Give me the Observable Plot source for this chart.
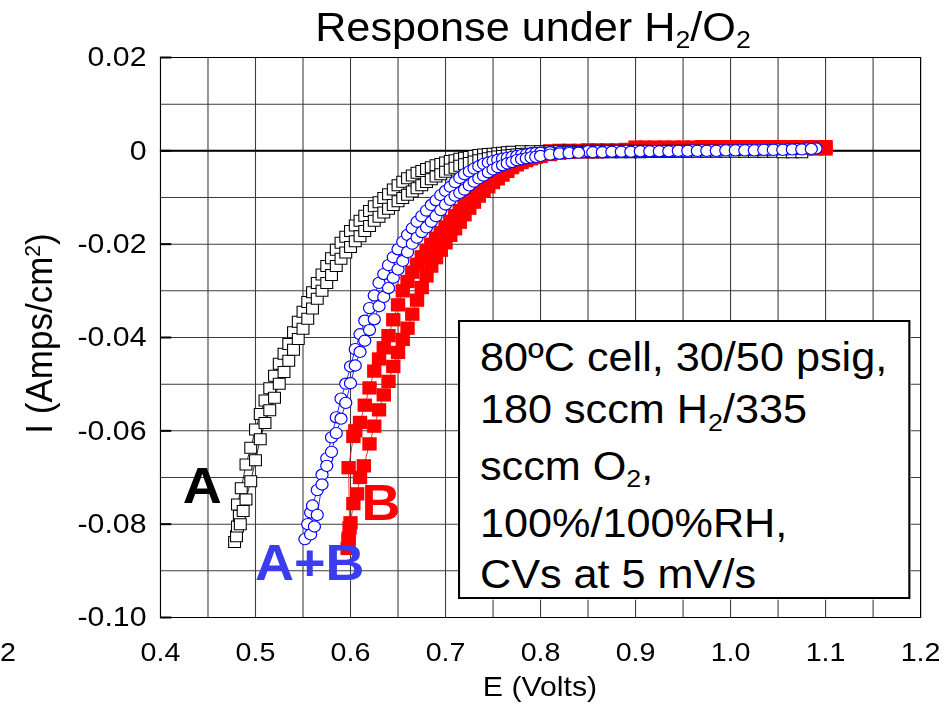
<!DOCTYPE html>
<html><head><meta charset="utf-8">
<script src="https://cdn.jsdelivr.net/npm/d3@7"></script>
<script src="https://cdn.jsdelivr.net/npm/@observablehq/plot@0.6"></script>
<style>
html,body{margin:0;padding:0;background:#fff;overflow:hidden;}
body{width:950px;height:706px;position:relative;}
#stage{position:absolute;left:0;top:0;width:880px;height:706px;transform:scaleX(1.08);transform-origin:0 0;font-family:"Liberation Sans",Arial,Helvetica,sans-serif;color:#000;}
#stage svg{position:absolute;left:0;top:0;}
.ov{position:absolute;white-space:nowrap;}
.sub{font-size:0.62em;position:relative;top:0.3em;}
</style></head><body>
<div id="stage">
  <div class="ov" id="title" style="left:193.5px;width:600px;top:7px;font-size:40px;line-height:40px;text-align:center;">Response under H<span class="sub">2</span>/O<span class="sub">2</span></div>
  <div class="ov" style="left:-114.3px;top:315.5px;width:300px;font-size:35px;line-height:35px;text-align:center;transform:rotate(-90deg);">I (Amps/cm<sup style="font-size:0.6em;vertical-align:0.55em;line-height:0">2</sup>)</div>
  <div class="ov" style="left:350px;width:300px;top:673.3px;font-size:28px;line-height:28px;text-align:center;">E (Volts)</div>
  <div class="ov" style="left:0px;top:638.5px;font-size:26.5px;line-height:26.5px;">2</div>
  <div class="ov" id="note" style="left:424px;top:320px;width:418.5px;height:279px;box-sizing:border-box;border:2px solid #000;background:#fff;padding:10.4px 0 0 18.4px;font-size:40px;line-height:51.7px;">80ºC cell, 30/50 psig,<br>180 sccm H<span class="sub">2</span>/335<br>sccm O<span class="sub">2</span>,<br>100%/100%RH,<br>CVs at 5 mV/s</div>
</div>
<script>
// ---- axis ticks & grid ----
const xTicks = [0.4, 0.5, 0.6, 0.7, 0.8, 0.9, 1.0, 1.1, 1.2];
const yTicks = [0.02, 0, -0.02, -0.04, -0.06, -0.08, -0.10];
const gridX = [0.4, 0.45, 0.5, 0.55, 0.6, 0.65, 0.7, 0.75, 0.8, 0.85, 0.9, 0.95, 1.0, 1.05, 1.1, 1.15, 1.2];
const gridY = [0.02, 0.01, 0, -0.01, -0.02, -0.03, -0.04, -0.05, -0.06, -0.07, -0.08, -0.09, -0.10];

// ---- series A (black open squares), two scan branches [E (V), I (A/cm2)] ----
const scanA1 = [[0.478,-0.0838],[0.480,-0.0826],[0.481,-0.0805],[0.483,-0.0782],[0.481,-0.0758],[0.485,-0.0723],[0.490,-0.0672],[0.495,-0.0636],[0.500,-0.0597],[0.505,-0.0564],[0.510,-0.0535],[0.515,-0.0509],[0.520,-0.0482],[0.525,-0.0456],[0.530,-0.0435],[0.535,-0.0414],[0.540,-0.0389],[0.545,-0.0366],[0.550,-0.0345],[0.555,-0.0324],[0.560,-0.0303],[0.565,-0.0283],[0.570,-0.0265],[0.575,-0.0247],[0.580,-0.0230],[0.585,-0.0212],[0.590,-0.0197],[0.595,-0.0184],[0.600,-0.0172],[0.605,-0.0160],[0.610,-0.0150],[0.615,-0.0139],[0.620,-0.0129],[0.625,-0.0119],[0.630,-0.0110],[0.635,-0.0101],[0.640,-0.0093],[0.645,-0.0083],[0.650,-0.0074],[0.655,-0.0066],[0.660,-0.0059],[0.665,-0.0053],[0.670,-0.0047],[0.675,-0.0043],[0.680,-0.0039],[0.685,-0.0035],[0.690,-0.0031],[0.695,-0.0028],[0.700,-0.0025],[0.705,-0.0022],[0.710,-0.0020],[0.715,-0.0017],[0.720,-0.0015],[0.725,-0.0013],[0.730,-0.0011],[0.735,-0.0009],[0.740,-0.0008],[0.745,-0.0007],[0.750,-0.0006],[0.755,-0.0005],[0.760,-0.0004],[0.765,-0.0003],[0.770,-0.0002],[0.780,-0.0001],[0.790,-0.0001],[0.800,-0.0001],[0.810,-0.0001],[0.820,0],[0.830,0],[0.840,-0.0001],[0.850,0],[0.860,0],[0.870,0],[0.880,0],[0.890,0],[0.900,0],[0.910,0],[0.920,-0.0001],[0.930,0],[0.940,0],[0.950,0],[0.960,0],[0.970,0],[0.980,0],[0.990,0],[1.000,0],[1.010,0],[1.020,0],[1.030,-0.0001],[1.040,0],[1.050,0],[1.060,-0.0001],[1.070,-0.0001]];
const scanA2 = [[0.484,-0.0800],[0.487,-0.0772],[0.490,-0.0747],[0.495,-0.0708],[0.500,-0.0663],[0.505,-0.0618],[0.510,-0.0583],[0.515,-0.0556],[0.520,-0.0529],[0.525,-0.0499],[0.530,-0.0474],[0.535,-0.0450],[0.540,-0.0426],[0.545,-0.0403],[0.550,-0.0381],[0.555,-0.0360],[0.560,-0.0338],[0.565,-0.0317],[0.570,-0.0300],[0.575,-0.0283],[0.580,-0.0266],[0.585,-0.0247],[0.590,-0.0231],[0.595,-0.0218],[0.600,-0.0206],[0.605,-0.0194],[0.610,-0.0183],[0.615,-0.0172],[0.620,-0.0161],[0.625,-0.0150],[0.630,-0.0141],[0.635,-0.0132],[0.640,-0.0124],[0.645,-0.0116],[0.650,-0.0108],[0.655,-0.0101],[0.660,-0.0094],[0.665,-0.0087],[0.670,-0.0080],[0.675,-0.0074],[0.680,-0.0067],[0.685,-0.0061],[0.690,-0.0055],[0.695,-0.0050],[0.700,-0.0045],[0.705,-0.0040],[0.710,-0.0036],[0.715,-0.0032],[0.720,-0.0029],[0.725,-0.0026],[0.730,-0.0023],[0.735,-0.0020],[0.740,-0.0018],[0.745,-0.0016],[0.750,-0.0014],[0.755,-0.0012],[0.760,-0.0011],[0.765,-0.0010],[0.770,-0.0009],[0.775,-0.0008],[0.780,-0.0007],[0.785,-0.0006],[0.795,-0.0005],[0.805,-0.0004],[0.815,-0.0004],[0.825,-0.0003],[0.835,-0.0003],[0.845,-0.0003],[0.855,-0.0003],[0.865,-0.0003],[0.875,-0.0003],[0.885,-0.0003],[0.895,-0.0003],[0.905,-0.0003],[0.915,-0.0002],[0.925,-0.0002],[0.935,-0.0002],[0.945,-0.0002],[0.955,-0.0002],[0.965,-0.0002],[0.975,-0.0002],[0.985,-0.0002],[0.995,-0.0002],[1.005,-0.0002],[1.015,-0.0002],[1.025,-0.0002],[1.035,-0.0002],[1.045,-0.0002],[1.055,-0.0003],[1.065,-0.0003],[1.075,-0.0003]];

// ---- series A+B (blue open circles) ----
const scanAB1 = [[0.552,-0.0832],[0.555,-0.0800],[0.558,-0.0775],[0.560,-0.0760],[0.565,-0.0727],[0.570,-0.0694],[0.575,-0.0659],[0.580,-0.0614],[0.585,-0.0571],[0.590,-0.0531],[0.595,-0.0499],[0.600,-0.0462],[0.605,-0.0425],[0.610,-0.0393],[0.615,-0.0364],[0.620,-0.0337],[0.625,-0.0310],[0.630,-0.0283],[0.635,-0.0264],[0.640,-0.0245],[0.645,-0.0228],[0.650,-0.0211],[0.655,-0.0195],[0.660,-0.0180],[0.665,-0.0166],[0.670,-0.0152],[0.675,-0.0140],[0.680,-0.0128],[0.685,-0.0116],[0.690,-0.0106],[0.695,-0.0095],[0.700,-0.0086],[0.705,-0.0077],[0.710,-0.0067],[0.715,-0.0058],[0.720,-0.0050],[0.725,-0.0044],[0.730,-0.0038],[0.735,-0.0033],[0.740,-0.0028],[0.745,-0.0025],[0.750,-0.0022],[0.755,-0.0019],[0.760,-0.0017],[0.765,-0.0015],[0.770,-0.0013],[0.775,-0.0011],[0.780,-0.0009],[0.785,-0.0008],[0.790,-0.0006],[0.795,-0.0005],[0.800,-0.0004],[0.810,-0.0003],[0.820,-0.0003],[0.830,-0.0002],[0.840,-0.0002],[0.850,-0.0001],[0.860,-0.0001],[0.870,-0.0001],[0.880,0],[0.890,0],[0.900,0],[0.910,0],[0.920,0],[0.930,0],[0.940,0],[0.950,0],[0.960,0.0001],[0.970,0.0001],[0.980,0.0001],[0.990,0.0001],[1.000,0.0001],[1.010,0.0002],[1.020,0.0002],[1.030,0.0002],[1.040,0.0002],[1.050,0.0003],[1.060,0.0003],[1.070,0.0004],[1.080,0.0005],[1.090,0.0005]];
const scanAB2 = [[0.558,-0.0822],[0.562,-0.0805],[0.565,-0.0780],[0.570,-0.0715],[0.575,-0.0675],[0.580,-0.0645],[0.585,-0.0605],[0.590,-0.0574],[0.595,-0.0540],[0.600,-0.0498],[0.605,-0.0460],[0.610,-0.0431],[0.615,-0.0407],[0.620,-0.0384],[0.625,-0.0361],[0.630,-0.0333],[0.635,-0.0313],[0.640,-0.0294],[0.645,-0.0272],[0.650,-0.0254],[0.655,-0.0236],[0.660,-0.0217],[0.665,-0.0199],[0.670,-0.0186],[0.675,-0.0174],[0.680,-0.0164],[0.685,-0.0152],[0.690,-0.0140],[0.695,-0.0127],[0.700,-0.0115],[0.705,-0.0105],[0.710,-0.0096],[0.715,-0.0090],[0.720,-0.0083],[0.725,-0.0074],[0.730,-0.0066],[0.735,-0.0059],[0.740,-0.0053],[0.745,-0.0046],[0.750,-0.0040],[0.755,-0.0035],[0.760,-0.0031],[0.765,-0.0027],[0.770,-0.0024],[0.775,-0.0020],[0.780,-0.0018],[0.785,-0.0016],[0.790,-0.0014],[0.795,-0.0013],[0.800,-0.0011],[0.810,-0.0008],[0.820,-0.0006],[0.830,-0.0005],[0.840,-0.0004],[0.855,-0.0003],[0.865,-0.0003],[0.875,-0.0002],[0.885,-0.0002],[0.895,-0.0002],[0.905,-0.0001],[0.915,-0.0001],[0.925,-0.0001],[0.935,-0.0001],[0.945,0],[0.955,0],[0.965,0],[0.975,0],[0.985,0],[0.995,0.0001],[1.005,0.0001],[1.015,0.0001],[1.025,0.0001],[1.035,0.0002],[1.045,0.0002],[1.055,0.0002],[1.065,0.0003],[1.075,0.0003],[1.085,0.0004]];

// ---- series B (red filled squares) ----
const scanB1 = [[0.597,-0.0852],[0.598,-0.0830],[0.599,-0.0808],[0.598,-0.0679],[0.603,-0.0612],[0.605,-0.0600],[0.610,-0.0582],[0.615,-0.0545],[0.620,-0.0508],[0.625,-0.0472],[0.630,-0.0446],[0.635,-0.0422],[0.640,-0.0396],[0.645,-0.0362],[0.650,-0.0330],[0.655,-0.0300],[0.660,-0.0280],[0.665,-0.0260],[0.670,-0.0243],[0.675,-0.0227],[0.680,-0.0213],[0.685,-0.0200],[0.690,-0.0187],[0.695,-0.0175],[0.700,-0.0163],[0.705,-0.0151],[0.710,-0.0139],[0.715,-0.0128],[0.720,-0.0117],[0.725,-0.0106],[0.730,-0.0096],[0.735,-0.0086],[0.740,-0.0077],[0.745,-0.0068],[0.750,-0.0060],[0.755,-0.0052],[0.760,-0.0045],[0.765,-0.0038],[0.770,-0.0032],[0.775,-0.0026],[0.780,-0.0021],[0.785,-0.0016],[0.790,-0.0012],[0.795,-0.0008],[0.800,-0.0005],[0.805,-0.0002],[0.810,0],[0.820,0.0001],[0.830,0.0001],[0.840,0.0001],[0.850,0.0002],[0.860,0.0002],[0.870,0.0002],[0.880,0.0002],[0.890,0.0003],[0.900,0.0008],[0.910,0.0008],[0.920,0.0008],[0.930,0.0008],[0.940,0.0008],[0.950,0.0008],[0.960,0.0008],[0.970,0.0009],[0.980,0.0009],[0.990,0.0009],[1.000,0.0009],[1.010,0.0009],[1.020,0.0009],[1.030,0.0009],[1.040,0.0009],[1.050,0.0009],[1.060,0.0009],[1.070,0.0009],[1.080,0.0009],[1.090,0.0009],[1.100,0.0009]];
const scanB2 = [[0.598,-0.0836],[0.600,-0.0797],[0.603,-0.0756],[0.607,-0.0735],[0.610,-0.0700],[0.614,-0.0675],[0.620,-0.0628],[0.625,-0.0590],[0.630,-0.0555],[0.635,-0.0523],[0.640,-0.0494],[0.645,-0.0462],[0.650,-0.0432],[0.655,-0.0404],[0.660,-0.0380],[0.665,-0.0350],[0.670,-0.0320],[0.675,-0.0293],[0.680,-0.0268],[0.685,-0.0247],[0.690,-0.0229],[0.695,-0.0213],[0.700,-0.0197],[0.705,-0.0181],[0.710,-0.0167],[0.715,-0.0153],[0.720,-0.0137],[0.725,-0.0123],[0.730,-0.0110],[0.735,-0.0097],[0.740,-0.0086],[0.745,-0.0077],[0.750,-0.0068],[0.755,-0.0060],[0.760,-0.0052],[0.765,-0.0044],[0.770,-0.0036],[0.775,-0.0030],[0.780,-0.0025],[0.785,-0.0021],[0.790,-0.0017],[0.795,-0.0014],[0.800,-0.0012],[0.810,-0.0008],[0.820,-0.0005],[0.830,-0.0003],[0.840,-0.0002],[0.850,-0.0002],[0.860,-0.0002],[0.870,-0.0001],[0.880,-0.0001],[0.890,-0.0001],[0.900,0],[0.910,0],[0.920,0],[0.930,0],[0.940,0],[0.950,0],[0.960,0.0001],[0.970,0.0001],[0.980,0.0001],[0.990,0.0001],[1.000,0.0002],[1.010,0.0002],[1.020,0.0002],[1.030,0.0002],[1.040,0.0003],[1.050,0.0003],[1.060,0.0003],[1.070,0.0003],[1.080,0.0004],[1.090,0.0004],[1.100,0.0004]];

// ---- in-plot labels ----
const labelText = ["A", "A+B", "B"];
const labelE = [0.444, 0.557, 0.632];
const labelI = [-0.0720, -0.0885, -0.0757];
const labelColor = ["#000000", "#3b3bf2", "#ff0000"];

// ---- build tables ----
function rowsOf(name, scans) {
  const out = [];
  scans.forEach((pts, s) => pts.forEach(([E, I]) => out.push({series: name, scan: name + s, E, I})));
  return out;
}
const dataA = rowsOf("A", [scanA1, scanA2]);
const dataAB = rowsOf("A+B", [scanAB1, scanAB2]);
const dataB = rowsOf("B", [scanB1, scanB2]);
const labels = labelText.map((t, i) => ({t, E: labelE[i], I: labelI[i], c: labelColor[i]}));

const fmtY = d => (d === 0 ? "0" : d.toFixed(2));
const fmtX = d => d.toFixed(1);
const FONT = '"Liberation Sans", Arial, Helvetica, sans-serif';
const W = 880, ML = 148.1, MR = 28.1;

const chart = Plot.plot({
  width: W,
  height: 706,
  marginLeft: ML,
  marginRight: MR,
  marginTop: 57,
  marginBottom: 89,
  style: {fontFamily: FONT, fontSize: "27px", color: "#000", background: "transparent", overflow: "visible"},
  x: {domain: [0.4, 1.2]},
  y: {domain: [-0.10, 0.02]},
  marks: [
    Plot.ruleX(gridX, {stroke: "#3c3c3c", strokeWidth: 1}),
    Plot.ruleY(gridY, {stroke: "#3c3c3c", strokeWidth: 1}),
    Plot.ruleY([0], {stroke: "#000", strokeWidth: 2}),
    Plot.frame({stroke: "#000", strokeWidth: 1}),
    Plot.tickY(yTicks, {stroke: "#000", strokeWidth: 2, insetRight: (W - ML - MR) - 10.5}),
    Plot.axisX(xTicks, {tickSize: 0, tickPadding: 25, tickFormat: fmtX, fontSize: 26.5, label: null}),
    Plot.axisY(yTicks, {tickSize: 0, tickPadding: 13, tickFormat: fmtY, fontSize: 28, label: null}),
    Plot.line(dataB, {x: "E", y: "I", z: "scan", stroke: "#ff0000", strokeWidth: 0.8}),
    Plot.dot(dataB, {x: "E", y: "I", symbol: "square", r: 7.5, fill: "#ff0000"}),
    Plot.line(dataA, {x: "E", y: "I", z: "scan", stroke: "#000", strokeWidth: 0.8}),
    Plot.dot(dataA, {x: "E", y: "I", symbol: "square", r: 6.2, fill: "#fff", stroke: "#000", strokeWidth: 1}),
    Plot.line(dataAB, {x: "E", y: "I", z: "scan", stroke: "#0000ff", strokeWidth: 0.8}),
    Plot.dot(dataAB, {x: "E", y: "I", r: 5.6, fill: "#fff", stroke: "#0000ff", strokeWidth: 1.1}),
    Plot.text(labels, {x: "E", y: "I", text: "t", fill: "c", fontSize: 50, fontWeight: "bold", fontFamily: FONT})
  ]
});
const stage = document.getElementById("stage");
stage.insertBefore(chart, stage.firstChild);
</script>
</body></html>
